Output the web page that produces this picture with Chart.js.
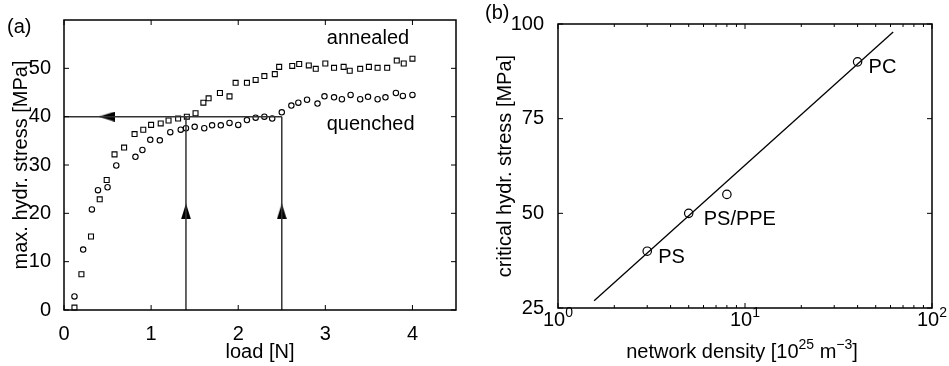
<!DOCTYPE html>
<html>
<head>
<meta charset="utf-8">
<script src="https://cdn.jsdelivr.net/npm/chart.js@4.4.1/dist/chart.umd.min.js"></script>
<style>
  html, body { margin: 0; padding: 0; background: #fff; }
  #wrap { position: relative; width: 949px; height: 366px; }
  .panel { position: absolute; top: 0; height: 366px; }
</style>
</head>
<body>
<div id="wrap">
  <div class="panel" style="left:0;width:474px"><canvas id="chartA" width="474" height="366"></canvas></div>
  <div class="panel" style="left:474px;width:475px"><canvas id="chartB" width="475" height="366"></canvas></div>
</div>
<script>
// ---- panel (a): max. hydrostatic stress vs load ----
const loadAnnealed = [0.12, 0.2, 0.31, 0.41, 0.49, 0.58, 0.69, 0.81, 0.91, 1.0, 1.11, 1.2, 1.31, 1.41, 1.51,
  1.6, 1.66, 1.79, 1.9, 1.97, 2.1, 2.2, 2.3, 2.42, 2.47, 2.62, 2.7, 2.81, 2.89, 3.0, 3.1, 3.21, 3.28,
  3.4, 3.5, 3.6, 3.71, 3.82, 3.9, 4.0];
const stressAnnealed = [0.5, 7.4, 15.2, 22.9, 26.9, 32.2, 33.6, 36.4, 37.3, 38.3, 38.6, 39.2, 39.6, 40.0, 40.7,
  42.9, 43.8, 44.9, 44.2, 47.0, 47.0, 47.6, 48.4, 48.8, 50.3, 50.5, 50.9, 50.6, 49.9, 51.0, 50.1, 50.3, 49.5,
  49.9, 50.3, 50.1, 50.1, 51.6, 51.0, 52.0];
const loadQuenched = [0.12, 0.22, 0.32, 0.39, 0.5, 0.6, 0.82, 0.9, 0.99, 1.1, 1.22, 1.34, 1.4, 1.5, 1.61,
  1.7, 1.8, 1.9, 2.0, 2.1, 2.2, 2.3, 2.39, 2.5, 2.61, 2.69, 2.79, 2.91, 2.99, 3.1, 3.19, 3.29, 3.4,
  3.49, 3.6, 3.69, 3.81, 3.89, 4.0];
const stressQuenched = [2.8, 12.5, 20.8, 24.8, 25.4, 29.9, 31.7, 33.1, 35.2, 35.1, 36.8, 37.3, 37.6, 37.9, 37.6,
  38.2, 38.2, 38.7, 38.3, 39.3, 39.8, 40.0, 39.6, 40.9, 42.3, 42.9, 43.5, 42.7, 44.2, 44.0, 43.6, 44.5, 43.6,
  44.1, 43.6, 44.0, 44.9, 44.3, 44.5];
// guide lines and arrow heads
const guideH = [[0, 40], [2.5, 40]];
const guideV1 = [[1.4, 0], [1.4, 40]];
const guideV2 = [[2.5, 0], [2.5, 40]];
const arrowUp = [[1.4, 20.4], [2.5, 20.4]];
const arrowLeft = [[0.49, 40]];
const loadTicks = [0, 1, 2, 3, 4];
const stressTicks = [0, 10, 20, 30, 40, 50];

// ---- panel (b): critical hydrostatic stress vs network density ----
const densityNames = ['PS', 'PS/PPE', '', 'PC'];
const density = [3, 5, 8, 40];
const criticalStress = [40, 50, 55, 90];
const fitLine = [[1.56, 26.9], [62, 97.9]];
const densityTicks = [1, 10, 100];
const densityExponents = ['0', '1', '2'];
const densityMinor = [2, 3, 4, 5, 6, 7, 8, 9, 20, 30, 40, 50, 60, 70, 80, 90];
const criticalTicks = [25, 50, 75, 100];

const FONT = '"Liberation Sans", Arial, Helvetica, sans-serif';
Chart.defaults.font.family = FONT;
Chart.defaults.color = '#000';

const toXY = pairs => pairs.map(p => ({ x: p[0], y: p[1] }));
const zipXY = (xs, ys) => xs.map((x, i) => ({ x: x, y: ys[i] }));

// arrow head image, tip pointing up
function makeArrow() {
    const c = document.createElement('canvas');
    c.width = 10;
    c.height = 16;
    const g = c.getContext('2d');
    g.fillStyle = '#000';
    g.beginPath();
    g.moveTo(5, 0);
    g.lineTo(10, 16);
    g.lineTo(0, 16);
    g.closePath();
    g.fill();
    return c;
}
const arrowImg = makeArrow();

// text with superscript parts, centred on cx, baseline at by
function drawSupText(ctx, parts, cx, by) {
    const big = '20px ' + FONT, small = '14px ' + FONT;
    let total = 0;
    parts.forEach(p => { ctx.font = p.sup ? small : big; p.w = ctx.measureText(p.t).width; total += p.w; });
    let x = cx - total / 2;
    ctx.textAlign = 'left';
    ctx.textBaseline = 'alphabetic';
    parts.forEach(p => {
        ctx.font = p.sup ? small : big;
        ctx.fillText(p.t, x, p.sup ? by - 9 : by);
        x += p.w;
    });
}

// box round the plot area with ticks on the inside, plus text labels
const framePlugin = {
    id: 'frame',
    afterDatasetsDraw(chart, args, opts) {
        const { ctx, chartArea: a, scales } = chart;
        const x = scales.x, y = scales.y;
        ctx.save();
        ctx.strokeStyle = '#000';
        ctx.lineWidth = 1;
        ctx.beginPath();
        const major = 5, minor = 3;
        (opts.xMajor || []).forEach(v => {
            const px = x.getPixelForValue(v);
            ctx.moveTo(px, a.bottom); ctx.lineTo(px, a.bottom - major);
            ctx.moveTo(px, a.top); ctx.lineTo(px, a.top + major);
        });
        (opts.xMinor || []).forEach(v => {
            const px = x.getPixelForValue(v);
            ctx.moveTo(px, a.bottom); ctx.lineTo(px, a.bottom - minor);
            ctx.moveTo(px, a.top); ctx.lineTo(px, a.top + minor);
        });
        (opts.yMajor || []).forEach(v => {
            const py = y.getPixelForValue(v);
            ctx.moveTo(a.left, py); ctx.lineTo(a.left + major, py);
            ctx.moveTo(a.right, py); ctx.lineTo(a.right - major, py);
        });
        ctx.stroke();
        ctx.lineWidth = 1.5;
        ctx.strokeRect(a.left, a.top, a.right - a.left, a.bottom - a.top);

        ctx.fillStyle = '#000';
        ctx.font = '20px ' + FONT;
        ctx.textBaseline = 'middle';
        (opts.labels || []).forEach(l => {
            ctx.textAlign = l.align || 'center';
            ctx.fillText(l.text, x.getPixelForValue(l.x) + (l.dx || 0), y.getPixelForValue(l.y) + (l.dy || 0));
        });
        if (opts.panel) {
            ctx.textAlign = 'left';
            ctx.fillText(opts.panel.text, opts.panel.x, opts.panel.y);
        }
        if (opts.logTicks) {
            opts.logTicks.forEach((v, i) => {
                drawSupText(ctx, [{ t: '10' }, { t: opts.logExp[i], sup: true }], x.getPixelForValue(v), a.bottom + 18);
            });
        }
        if (opts.xTitle) {
            drawSupText(ctx, opts.xTitle, (a.left + a.right) / 2 - 3, 358);
        }
        ctx.restore();
    }
};

const lineDs = (pts, color, width) => ({
    data: toXY(pts), showLine: true, borderColor: color, borderWidth: width,
    pointRadius: 0, fill: false, clip: false
});

new Chart(document.getElementById('chartA'), {
    type: 'scatter',
    data: {
        datasets: [
            lineDs(guideH, '#333', 1.5),
            lineDs(guideV1, '#333', 1.5),
            lineDs(guideV2, '#333', 1.5),
            { data: toXY(arrowUp), pointStyle: arrowImg, pointRadius: 5, clip: false },
            { data: toXY(arrowLeft), pointStyle: arrowImg, pointRotation: -90, pointRadius: 5, clip: false },
            {
                label: 'annealed', data: zipXY(loadAnnealed, stressAnnealed), pointStyle: 'rect',
                pointRadius: 3.5, borderColor: '#000', borderWidth: 1.1, backgroundColor: 'rgba(0,0,0,0)', clip: false
            },
            {
                label: 'quenched', data: zipXY(loadQuenched, stressQuenched), pointStyle: 'circle',
                pointRadius: 2.7, borderColor: '#000', borderWidth: 1.1, backgroundColor: 'rgba(0,0,0,0)', clip: false
            }
        ]
    },
    options: {
        responsive: false,
        animation: false,
        layout: { padding: { left: 0, top: 20, right: 18, bottom: 0 } },
        plugins: {
            legend: { display: false },
            tooltip: { enabled: false },
            frame: {
                xMajor: loadTicks,
                yMajor: stressTicks,
                labels: [
                    { text: 'annealed', x: 3.49, y: 56.2 },
                    { text: 'quenched', x: 3.52, y: 38.3 }
                ],
                panel: { text: '(a)', x: 7, y: 27 }
            }
        },
        scales: {
            x: {
                type: 'linear', min: 0, max: 4.5,
                grid: { display: false }, border: { display: false },
                afterBuildTicks: s => { s.ticks = loadTicks.map(v => ({ value: v })); },
                afterFit: s => { s.height = 56; },
                ticks: { font: { size: 20 }, padding: 4, color: '#000' },
                title: { display: true, text: 'load [N]', color: '#000', font: { size: 20 }, padding: { top: 0, bottom: 2 } }
            },
            y: {
                type: 'linear', min: 0, max: 60,
                grid: { display: false }, border: { display: false },
                afterBuildTicks: s => { s.ticks = stressTicks.map(v => ({ value: v })); },
                afterFit: s => { s.width = 64; },
                ticks: { font: { size: 20 }, padding: 5, color: '#000' },
                title: { display: true, text: 'max. hydr. stress [MPa]', color: '#000', font: { size: 20 }, padding: { top: 9, bottom: 0 } }
            }
        }
    },
    plugins: [framePlugin]
});

new Chart(document.getElementById('chartB'), {
    type: 'scatter',
    data: {
        datasets: [
            lineDs(fitLine, '#000', 1.3),
            {
                label: 'polymers', data: zipXY(density, criticalStress), pointStyle: 'circle',
                pointRadius: 4.2, borderColor: '#000', borderWidth: 1.2, backgroundColor: '#fff', clip: false
            }
        ]
    },
    options: {
        responsive: false,
        animation: false,
        layout: { padding: { left: 0, top: 24, right: 17, bottom: 0 } },
        plugins: {
            legend: { display: false },
            tooltip: { enabled: false },
            frame: {
                xMajor: densityTicks,
                xMinor: densityMinor,
                yMajor: criticalTicks,
                logTicks: densityTicks,
                logExp: densityExponents,
                xTitle: [{ t: 'network density [10' }, { t: '25', sup: true }, { t: ' m' }, { t: '\u22123', sup: true }, { t: ']' }],
                labels: densityNames.map((n, i) => ({
                    text: n, x: density[i], y: criticalStress[i], dx: n === 'PS/PPE' ? 15 : 11, dy: 6, align: 'left'
                })),
                panel: { text: '(b)', x: 11, y: 13 }
            }
        },
        scales: {
            x: {
                type: 'logarithmic', min: 1, max: 100,
                grid: { display: false }, border: { display: false },
                afterBuildTicks: s => { s.ticks = densityTicks.map(v => ({ value: v })); },
                afterFit: s => { s.height = 58; },
                ticks: { display: false },
                title: { display: false, text: 'network density [10\u00b2\u2075 m\u207b\u00b3]' }
            },
            y: {
                type: 'linear', min: 25, max: 100,
                grid: { display: false }, border: { display: false },
                afterBuildTicks: s => { s.ticks = criticalTicks.map(v => ({ value: v })); },
                afterFit: s => { s.width = 84; },
                ticks: { font: { size: 20 }, padding: 6, color: '#000' },
                title: { display: true, text: 'critical hydr. stress [MPa]', color: '#000', font: { size: 20 }, padding: { top: 19, bottom: 0 } }
            }
        }
    },
    plugins: [framePlugin]
});
</script>
</body>
</html>
